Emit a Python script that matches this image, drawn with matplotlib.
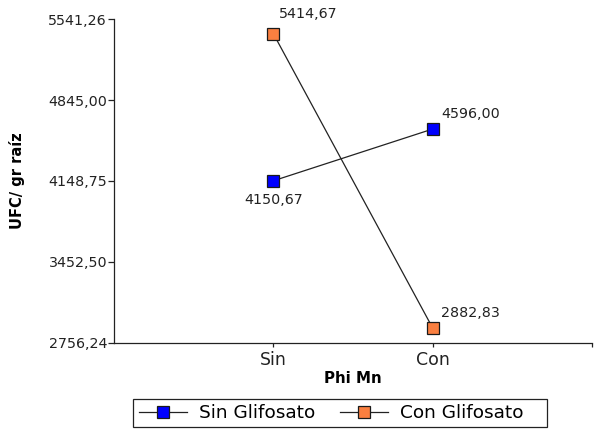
import matplotlib
matplotlib.use("Agg")
import matplotlib.pyplot as plt
from matplotlib.patches import Rectangle

categories = ["Sin", "Con"]
sin_glifosato = [4150.67, 4596.00]
con_glifosato = [5414.67, 2882.83]
series_names = ["Sin Glifosato", "Con Glifosato"]
y_ticks = [2756.24, 3452.50, 4148.75, 4845.00, 5541.26]
y_tick_labels = ["2756,24", "3452,50", "4148,75", "4845,00", "5541,26"]

plt.rcParams['font.family'] = ['DejaVu Sans']

fig = plt.figure(figsize=(6.0, 4.34), dpi=100)
ax = fig.add_axes([0.19, 0.2097, 0.797, 0.7465])

x = [1, 2]
ms = 8.5
l1, = ax.plot(x, sin_glifosato, color='#222222', lw=0.9, marker='s', ms=ms,
              markerfacecolor='#0000FF', markeredgecolor='#1a1a1a', markeredgewidth=0.9,
              label=series_names[0])
l2, = ax.plot(x, con_glifosato, color='#222222', lw=0.9, marker='s', ms=ms,
              markerfacecolor='#FA7F40', markeredgecolor='#1a1a1a', markeredgewidth=0.9,
              label=series_names[1])

def fmt(v):
    return f"{v:.2f}".replace('.', ',')

fs = 10.3
# Sin Glifosato labels
ax.annotate(fmt(sin_glifosato[0]), (x[0], sin_glifosato[0]), xytext=(0, -14),
            textcoords='offset points', ha='center', va='center', fontsize=fs, color='#222222')
ax.annotate(fmt(sin_glifosato[1]), (x[1], sin_glifosato[1]), xytext=(6, 11),
            textcoords='offset points', ha='left', va='center', fontsize=fs, color='#222222')
# Con Glifosato labels
ax.annotate(fmt(con_glifosato[0]), (x[0], con_glifosato[0]), xytext=(4, 14),
            textcoords='offset points', ha='left', va='center', fontsize=fs, color='#222222')
ax.annotate(fmt(con_glifosato[1]), (x[1], con_glifosato[1]), xytext=(6, 11),
            textcoords='offset points', ha='left', va='center', fontsize=fs, color='#222222')

ax.set_xlim(0, 3)
ax.set_ylim(y_ticks[0], y_ticks[-1])
ax.set_xticks([1, 2, 3])
ax.set_xticklabels(categories + [""])
ax.set_yticks(y_ticks)
ax.set_yticklabels(y_tick_labels)
ax.tick_params(axis='y', labelsize=fs, colors='#222222', length=4, width=0.9, direction='out', pad=1)
ax.tick_params(axis='x', labelsize=12.5, colors='#222222', length=3, width=0.9, direction='out', pad=3)
for s in ['top', 'right']:
    ax.spines[s].set_visible(False)
for s in ['left', 'bottom']:
    ax.spines[s].set_color('#222222')
    ax.spines[s].set_linewidth(0.9)

ax.set_xlabel("Phi Mn", fontsize=10.8, fontweight='bold', labelpad=1)
ax.set_ylabel("UFC/ gr raíz", fontsize=10.5, fontweight='bold', labelpad=16.5)

leg = fig.legend(handles=[l1, l2], loc='center left', bbox_to_anchor=(0.222, 0.0484), ncol=2,
                 frameon=False, fontsize=13.3, handlelength=2.6,
                 columnspacing=1.35, borderpad=0.3, handletextpad=0.65, borderaxespad=0.0)
fig.patches.append(Rectangle((133 / 600, 1 - 427 / 434), 414 / 600, 28 / 434,
                             transform=fig.transFigure, fill=False,
                             edgecolor='#222222', linewidth=0.9))

fig.savefig("out.png", dpi=100)
